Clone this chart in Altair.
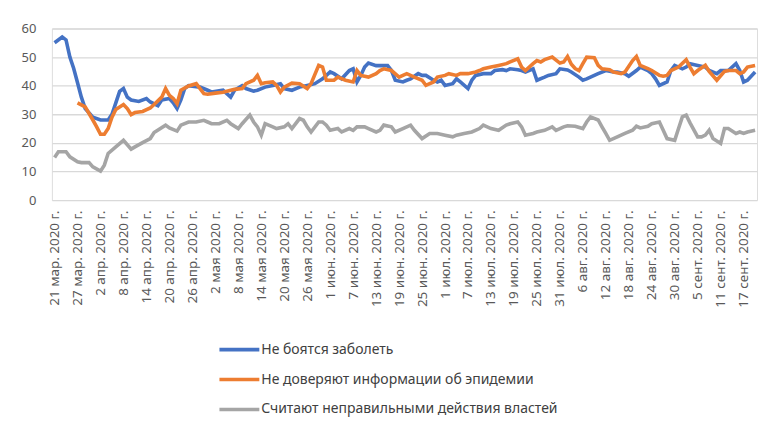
import json
import altair as alt
import pandas as pd

# ---- tick labels (every 6 days from 21 Mar 2020) ----
tick_labels = [
    "21 мар. 2020 г.", "27 мар. 2020 г.", "2 апр. 2020 г.", "8 апр. 2020 г.",
    "14 апр. 2020 г.", "20 апр. 2020 г.", "26 апр. 2020 г.", "2 мая 2020 г.",
    "8 мая 2020 г.", "14 мая 2020 г.", "20 мая 2020 г.", "26 мая 2020 г.",
    "1 июн. 2020 г.", "7 июн. 2020 г.", "13 июн. 2020 г.", "19 июн. 2020 г.",
    "25 июн. 2020 г.", "1 июл. 2020 г.", "7 июл. 2020 г.", "13 июл. 2020 г.",
    "19 июл. 2020 г.", "25 июл. 2020 г.", "31 июл. 2020 г.", "6 авг. 2020 г.",
    "12 авг. 2020 г.", "18 авг. 2020 г.", "24 авг. 2020 г.", "30 авг. 2020 г.",
    "5 сент. 2020 г.", "11 сент. 2020 г.", "17 сент. 2020 г.",
]
tick_days = [6 * i for i in range(len(tick_labels))]

series_names = [
    "Не боятся заболеть",
    "Не доверяют информации об эпидемии",
    "Считают неправильными действия властей",
]
series_colors = ["#4472C4", "#ED7D31", "#A5A5A5"]

# ---- series: day offset from 21 Mar 2020, value (%) ----
blue_days = [0, 2, 3, 4, 5, 6, 7, 8, 10, 12, 14, 15, 16, 17, 18, 19, 20, 22, 24, 25,
             27, 28, 30, 31, 32, 33, 34, 35, 38, 40, 41, 43, 44, 46, 47, 49, 50, 52, 53, 55,
             57, 59, 60, 62, 64, 66, 68, 70, 72, 73, 75, 77, 78, 79, 80, 81, 82, 84, 87, 88,
             89, 91, 92, 93, 95, 96, 97, 99, 100, 101, 102, 104, 105, 106, 108, 109, 110, 112, 114, 115,
             117, 118, 119, 121, 122, 123, 125, 126, 128, 129, 131, 132, 134, 135, 137, 138, 139, 141, 142, 144,
             146, 147, 149, 150, 152, 153, 155, 156, 157, 158, 160, 161, 162, 164, 165, 166, 168, 170, 171, 173,
             174, 176, 178, 179, 180, 181, 183]
blue_vals = [55, 57, 56, 50, 46, 41, 36, 32, 29, 28, 28, 30, 34, 38, 39, 36, 35, 34.5, 35.5, 34.3,
             33, 35, 35.5, 34, 32, 35, 39, 40, 39.5, 38.4, 37.8, 38.2, 38.4, 36, 38.4, 40, 39, 38.1, 38.4, 39.5,
             40.1, 40.7, 39, 38.4, 39.5, 40.1, 40.7, 42.4, 44.8, 44.2, 42.4, 45.3, 45.9, 41.3, 43.6, 46.5, 47.9, 47, 47, 45.3,
             41.9, 41.3, 41.9, 42.4, 44.2, 43.6, 43.6, 41.9, 41.3, 41.9, 40.1, 40.7, 42.4, 41.3, 39, 41.9, 43.6, 44.2, 44.2, 45.3,
             45.6, 45.3, 45.9, 45.6, 45.3, 44.8, 45.9, 41.9, 43, 43.6, 44.2, 45.9, 45.5, 44.8, 43, 41.9, 42.4, 43.6, 44.2, 45.3,
             44.8, 44.8, 44.2, 43.3, 45.3, 46.5, 45.3, 44.2, 42.4, 40.1, 41.3, 45.3, 47.1, 45.9, 46.5, 47.7, 47.1, 46.5, 45.3, 44.2,
             45.3, 45.3, 47.7, 45.3, 41.3, 41.9, 44.8]

orange_days = [6, 8, 10, 11, 12, 13, 14, 15, 16, 18, 19, 20, 21, 23, 25, 26, 28, 29, 30, 31,
               32, 33, 35, 37, 39, 40, 42, 44, 46, 47, 49, 50, 52, 53, 54, 55, 57, 58, 59, 60,
               62, 64, 66, 67, 69, 70, 71, 73, 74, 76, 78, 79, 80, 82, 84, 85, 86, 88, 90, 91,
               92, 94, 96, 97, 99, 100, 102, 103, 105, 106, 108, 110, 111, 112, 114, 116, 118, 119, 121, 122,
               123, 125, 126, 127, 128, 130, 132, 133, 134, 135, 136, 137, 138, 139, 141, 142, 143, 145, 146, 148,
               149, 151, 152, 153, 155, 156, 158, 159, 160, 161, 163, 165, 166, 167, 168, 170, 171, 173, 175, 176,
               178, 179, 180, 181, 183]
orange_vals = [34, 32.6, 28, 25.6, 23, 23, 25, 29, 31.7, 33.4, 32, 29.9, 30.6, 31, 32.2, 33.4, 36, 39, 36.6, 35.5,
               33.7, 38.4, 39.9, 40.7, 37.2, 37, 37.4, 37.7, 38.4, 38.7, 39, 40.7, 41.9, 43.6, 40.7, 41, 41.3, 40.1, 37.8, 39.5,
               40.9, 40.7, 39, 40.7, 47.1, 46.5, 41.9, 41.9, 43, 41.9, 41.3, 45.3, 43.6, 43, 44.2, 45.3, 45.9, 45.3, 43, 43.6,
               44.2, 43, 41.9, 40.1, 41.3, 43, 43.6, 44.2, 43.6, 44.2, 44.2, 44.8, 45.3, 45.9, 46.5, 47.1, 47.7, 48.3, 49.4, 46.5,
               45.3, 47.7, 48.8, 48.3, 49.1, 50, 47.9, 48.3, 50.2, 47.5, 46, 45.3, 47.7, 50, 49.8, 47.1, 45.9, 45.6, 44.8, 44.2,
               44.8, 48.8, 50.2, 47.1, 46, 45.3, 43.6, 43.3, 43.6, 45.3, 46.5, 49.1, 46.5, 44.2, 45.3, 47.1, 45, 41.9, 45, 45.3,
               45.3, 44.2, 44.8, 46.5, 47.1]

gray_days = [0, 1, 3, 4, 6, 7, 9, 10, 12, 13, 14, 16, 18, 20, 21, 23, 25, 26, 29, 30,
             32, 33, 35, 37, 39, 40, 41, 43, 45, 46, 48, 49, 51, 52, 53, 54, 55, 57, 58, 60,
             61, 62, 64, 65, 66, 67, 69, 70, 71, 72, 74, 75, 77, 78, 79, 81, 82, 84, 85, 86,
             88, 89, 91, 93, 94, 96, 98, 100, 102, 104, 105, 107, 109, 111, 112, 114, 116, 118, 119, 121,
             122, 123, 125, 126, 128, 130, 131, 133, 134, 136, 138, 139, 140, 142, 143, 144, 145, 147, 149, 151,
             152, 153, 155, 156, 158, 159, 160, 162, 163, 164, 165, 166, 168, 169, 170, 171, 172, 174, 175, 176,
             178, 179, 180, 181, 183]
gray_vals = [14.9, 16.9, 16.9, 15.1, 13.4, 13.1, 13.1, 11.6, 10.1, 12.2, 16.3, 18.6, 20.9, 17.8, 18.6, 20.1, 21.5, 23.6, 26.2, 25.2,
             24.1, 26.2, 27.3, 27.3, 27.9, 27.3, 26.7, 26.7, 27.9, 26.7, 25, 26.7, 29.7, 27.3, 25.6, 22.7, 26.7, 25.6, 25, 25.6,
             26.7, 25, 28.5, 27.9, 25.6, 23.8, 27.3, 27.3, 26.2, 24.4, 25, 23.8, 25, 24.4, 25.6, 25.6, 25, 23.8, 24.4, 26.2,
             25.6, 23.8, 25, 26.2, 24.4, 21.5, 23.3, 23.3, 22.7, 22.1, 22.7, 23.3, 23.8, 25, 26.2, 25, 24.4, 26.2, 26.7, 27.3,
             25.6, 22.7, 23.3, 23.8, 24.4, 25.6, 24.4, 25.6, 26, 25.8, 25, 27.3, 29.1, 28, 25.6, 23.3, 20.9, 22.1, 23.3, 24.4,
             25.8, 25.2, 25.8, 26.7, 27.3, 24.4, 21.5, 20.9, 25, 29.1, 29.7, 27, 22.1, 22.1, 22.7, 24.4, 21.5, 19.8, 25, 25,
             23.3, 23.8, 23.3, 23.8, 24.4]

y_ticks = [0, 10, 20, 30, 40, 50, 60]

frames = []
for name, days, vals in zip(series_names, [blue_days, orange_days, gray_days],
                            [blue_vals, orange_vals, gray_vals]):
    frames.append(pd.DataFrame({"day": days, "value": vals, "series": name}))
df = pd.concat(frames, ignore_index=True)

FONT = "Noto Sans"
label_expr = json.dumps(tick_labels) + "[round(datum.value / 6)]"

chart = alt.Chart(df).mark_line(strokeWidth=3.6, interpolate="linear").encode(
    x=alt.X("day:Q",
            scale=alt.Scale(domain=[-0.7, 183.5], nice=False, zero=False),
            axis=alt.Axis(values=tick_days, labelExpr=label_expr, labelAngle=-90,
                          title=None, grid=False, ticks=False, domain=False,
                          labelPadding=10, labelFontSize=13.5, labelColor="#595959",
                          labelFont=FONT, labelOverlap=False)),
    y=alt.Y("value:Q",
            scale=alt.Scale(domain=[0, 60], nice=False),
            axis=alt.Axis(values=y_ticks, title=None, ticks=False, domain=False,
                          labelPadding=16, labelFontSize=13, labelColor="#595959",
                          labelFont=FONT, gridColor="#D9D9D9", gridWidth=1.3)),
    color=alt.Color("series:N",
                    scale=alt.Scale(domain=series_names, range=series_colors),
                    legend=alt.Legend(title=None, orient="none", legendX=166, legendY=300,
                                      direction="vertical", symbolType="stroke",
                                      symbolStrokeWidth=3.6, symbolSize=1600,
                                      labelFontSize=14, labelColor="#404040",
                                      labelFont=FONT, labelOffset=0,
                                      rowPadding=-8, labelLimit=400)),
    order=alt.Order("day:Q"),
).properties(
    width=707,
    height=172,
    autosize=alt.AutoSizeParams(type="none"),
    padding={"left": 44, "top": 20, "right": 5, "bottom": 222},
).configure_view(stroke=None).configure(background="white")

chart.save("out.html", embed_options={"renderer": "svg", "actions": False})
